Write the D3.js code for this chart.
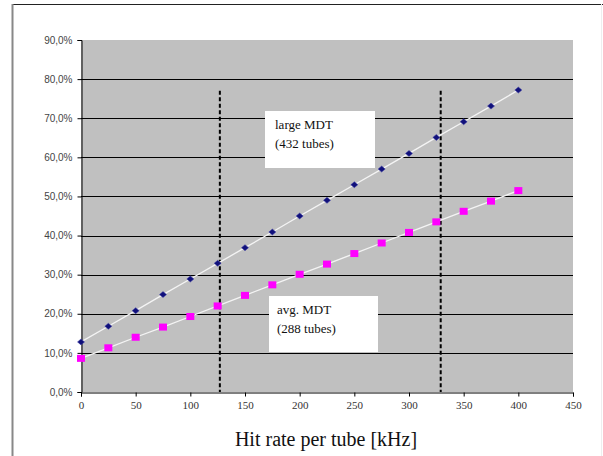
<!DOCTYPE html>
<html><head><meta charset="utf-8">
<script src="https://cdn.jsdelivr.net/npm/d3@7"></script>
<style>body{margin:0;background:#fff}svg{display:block}</style>
</head><body>
<svg id="c" width="603" height="456"></svg>
<script>
const hitRate = [0,25,50,75,100,125,150,175,200,225,250,275,300,325,350,375,400];
const largeMDT = [12.8,16.8,20.8,24.9,28.9,32.9,36.9,40.9,45.0,49.0,53.0,57.0,61.0,65.1,69.1,73.1,77.2];
const avgMDT = [8.6,11.3,14.0,16.6,19.3,22.0,24.7,27.4,30.1,32.7,35.4,38.1,40.8,43.5,46.2,48.8,51.5];
const yTicks = [0,10,20,30,40,50,60,70,80,90];
const xTicks = [0,50,100,150,200,250,300,350,400,450];
const markerLines = [127, 329];
const markerTop = 77;
const labels = [
  {lines:["large MDT","(432 tubes)"]},
  {lines:["avg. MDT","(288 tubes)"]}
];
const xTitle = "Hit rate per tube [kHz]";

const svg = d3.select("#c");
const L=81,R=573,T=40,B=392;
const x = d3.scaleLinear().domain([0,450]).range([L,R]);
const y = d3.scaleLinear().domain([0,90]).range([B,T]);

// outer frame
svg.append("line").attr("x1",12).attr("x2",603).attr("y1",4.5).attr("y2",4.5).attr("stroke","#222").attr("stroke-width",1.2);
svg.append("line").attr("x1",12.5).attr("x2",12.5).attr("y1",4).attr("y2",456).attr("stroke","#888").attr("stroke-width",2);
svg.append("line").attr("x1",601.5).attr("x2",601.5).attr("y1",4).attr("y2",456).attr("stroke","#eee").attr("stroke-width",1);

// plot area
svg.append("rect").attr("x",L).attr("y",T).attr("width",R-L).attr("height",B-T).attr("fill","#c0c0c0");

// gridlines
svg.append("g").selectAll("line").data(yTicks.filter(d=>d>0&&d<90)).join("line")
  .attr("x1",L).attr("x2",R).attr("y1",d=>Math.round(y(d))+0.5).attr("y2",d=>Math.round(y(d))+0.5)
  .attr("stroke","#000").attr("stroke-width",1);

// axes
const yAxis = d3.axisLeft(y).tickValues(yTicks).tickSize(4).tickPadding(5)
  .tickFormat(d=>d3.format(".1f")(d).replace(".",",")+"%");
const gy = svg.append("g").attr("transform",`translate(${L+0.5},0)`).call(yAxis);
gy.select(".domain").attr("stroke","#000");
gy.selectAll(".tick line").attr("stroke","#000");
gy.selectAll("text").attr("font-family","Liberation Sans, Arial, sans-serif").attr("font-size",10).attr("fill","#444");

const xAxis = d3.axisBottom(x).tickValues(xTicks).tickSize(4).tickPadding(5);
const gx = svg.append("g").attr("transform",`translate(0,${B+0.5})`).call(xAxis);
gx.select(".domain").attr("stroke","#000");
gx.selectAll(".tick line").attr("stroke","#000");
gx.selectAll("text").attr("font-family","Liberation Serif, Times New Roman, serif").attr("font-size",11).attr("fill","#333");

// dashed vertical lines
svg.append("g").selectAll("line").data(markerLines).join("line")
  .attr("x1",d=>x(d)).attr("x2",d=>x(d)).attr("y1",y(markerTop)).attr("y2",B)
  .attr("stroke","#000").attr("stroke-width",2).attr("stroke-dasharray","4,2.5");

// series lines
const line = (vals)=>d3.line().x((d,i)=>x(hitRate[i])).y(d=>y(d))(vals);
svg.append("path").attr("d",line(largeMDT)).attr("fill","none").attr("stroke","#f4f4f4").attr("stroke-width",1.3);
svg.append("path").attr("d",line(avgMDT)).attr("fill","none").attr("stroke","#f4f4f4").attr("stroke-width",1.3);

// markers
svg.append("g").selectAll("path").data(largeMDT).join("path")
  .attr("transform",(d,i)=>`translate(${x(hitRate[i])},${y(d)})`)
  .attr("d","M0,-3L3.5,0L0,3L-3.5,0Z")
  .attr("fill","#10107a").attr("stroke","#3a3aa8").attr("stroke-width",0.5);
svg.append("g").selectAll("rect").data(avgMDT).join("rect")
  .attr("x",(d,i)=>x(hitRate[i])-4).attr("y",d=>y(d)-3.5).attr("width",8).attr("height",7)
  .attr("fill","#ff00ff");

// label boxes
const boxes = [{x:265,y:111,w:110,h:57},{x:269,y:296,w:109,h:56}];
labels.forEach((lb,k)=>{
  const b=boxes[k];
  const g=svg.append("g");
  g.append("rect").attr("x",b.x).attr("y",b.y).attr("width",b.w).attr("height",b.h).attr("fill","#fff");
  lb.lines.forEach((t,j)=>{
    g.append("text").attr("x",b.x+10 - (k?2:0)).attr("y",b.y+18+j*19).text(t)
      .attr("font-family","Liberation Serif, Times New Roman, serif").attr("font-size",13).attr("fill","#111");
  });
});

// x title
svg.append("text").attr("x",326).attr("y",446).attr("text-anchor","middle").text(xTitle)
  .attr("font-family","Liberation Serif, Times New Roman, serif").attr("font-size",20).attr("fill","#111");
</script>
</body></html>
